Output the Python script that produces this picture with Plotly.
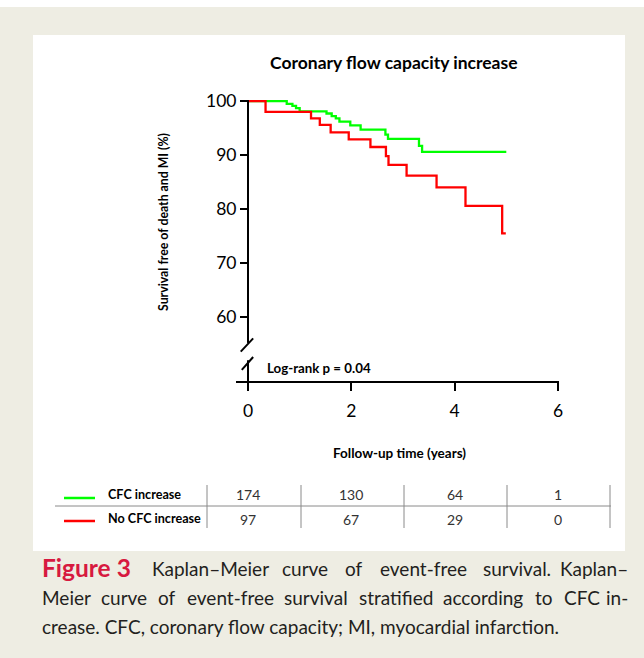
import plotly.graph_objects as go

# ---------------- data ----------------
green_t = [0, 0.75, 0.86, 0.93, 1.00, 1.52, 1.62, 1.70, 1.77, 1.98, 2.18, 2.66, 2.71, 3.31, 3.37, 5.0]
green_s = [100, 99.5, 99.1, 98.7, 98.1, 97.7, 97.2, 96.8, 96.2, 95.5, 94.7, 93.8, 93.0, 91.7, 90.6, 90.6]
red_t = [0, 0.34, 1.22, 1.39, 1.60, 1.95, 2.37, 2.67, 2.72, 3.07, 3.65, 4.21, 4.92, 4.99]
red_s = [100, 98.0, 96.8, 95.6, 94.2, 92.9, 91.5, 89.8, 88.2, 86.2, 84.0, 80.6, 75.5, 75.5]
x_ticks = [0, 2, 4, 6]
y_ticks = [60, 70, 80, 90, 100]
risk_times = [0, 2, 4, 6]
risk_cfc = [174, 130, 64, 1]
risk_no_cfc = [97, 67, 29, 0]
group_names = ["CFC increase", "No CFC increase"]
group_colors = ["#00FF00", "#FF0000"]
caption_label = "Figure 3"
caption_lines = [
    "Kaplan–Meier curve of event-free survival. Kaplan–",
    "Meier curve of event-free survival stratified according to CFC in-",
    "crease. CFC, coronary flow capacity; MI, myocardial infarction.",
]

W, H = 644, 658
L, R, T, B = 236, 85, 93, 277
PW, PH = W - L - R, H - T - B


def px(x):
    return (x - L) / PW


def py(y):
    return 1 - (y - T) / PH


BEIGE = "#EEEDE3"
FONT = "Lato"

fig = go.Figure()
fig.add_trace(go.Scatter(x=green_t, y=green_s, mode="lines", line_shape="hv",
                         line=dict(color=group_colors[0], width=2.3), name=group_names[0]))
fig.add_trace(go.Scatter(x=red_t, y=red_s, mode="lines", line_shape="hv",
                         line=dict(color=group_colors[1], width=2.3), name=group_names[1]))

shapes = []
# background panels
shapes.append(dict(type="rect", xref="paper", yref="paper", x0=px(0), x1=px(W), y0=py(7), y1=py(0),
                   fillcolor="white", line=dict(width=0), layer="below"))
shapes.append(dict(type="rect", xref="paper", yref="paper", x0=px(33), x1=px(625), y0=py(551), y1=py(35),
                   fillcolor="white", line=dict(width=0), layer="below"))
# y-axis line with break
shapes.append(dict(type="line", xref="x", yref="y", x0=0, x1=0, y0=100.2, y1=55.2,
                   line=dict(color="black", width=2)))
shapes.append(dict(type="line", xref="x", yref="y", x0=0, x1=0, y0=52.0, y1=48.15,
                   line=dict(color="black", width=2)))
# break marks
shapes.append(dict(type="line", xref="x", yref="y", x0=-0.14, x1=0.10, y0=53.6, y1=56.05,
                   line=dict(color="black", width=2)))
shapes.append(dict(type="line", xref="x", yref="y", x0=-0.12, x1=0.10, y0=50.2, y1=52.6,
                   line=dict(color="black", width=2)))
# table lines
shapes.append(dict(type="line", xref="paper", yref="paper", x0=px(55), x1=px(611), y0=py(506), y1=py(506),
                   line=dict(color="#8a8a8a", width=1)))
for vx in [207, 301, 404, 507, 610]:
    shapes.append(dict(type="line", xref="paper", yref="paper", x0=px(vx), x1=px(vx), y0=py(485), y1=py(528),
                       line=dict(color="#8a8a8a", width=1)))
# legend swatches
for c, yy in zip(group_colors, [498, 521]):
    shapes.append(dict(type="line", xref="paper", yref="paper", x0=px(64), x1=px(95), y0=py(yy), y1=py(yy),
                       line=dict(color=c, width=2.5)))

ann = []


def txt(text, x, y, size, bold=False, color="black", xanchor="center", font=FONT, xref="paper", textangle=0):
    ann.append(dict(text=f"<b>{text}</b>" if bold else text, x=x if xref != "paper" else px(x), y=py(y),
                    xref=xref, yref="paper", showarrow=False, xanchor=xanchor, yanchor="middle",
                    textangle=textangle, font=dict(family=font, size=size, color=color)))


txt("Coronary flow capacity increase", 394, 62, 17.5, bold=True)
txt("Survival free of death and MI (%)", 163, 222, 12.3, bold=True, textangle=-90)
txt("Follow-up time (years)", 399, 453, 13.5, bold=True)
txt("Log-rank p = 0.04", 265, 368, 13.3, bold=True, xanchor="left")
txt(group_names[0], 106, 494, 12.6, bold=True, xanchor="left")
txt(group_names[1], 106, 518, 12.6, bold=True, xanchor="left")
for t, a, b in zip(risk_times, risk_cfc, risk_no_cfc):
    txt(str(a), t, 494, 14, color="#333333", xref="x")
    txt(str(b), t, 519, 14, color="#333333", xref="x")

# ---- caption, justified using approximate Lato advance widths (em) ----
CW = {' ': .193, 'a': .49, 'b': .555, 'c': .45, 'd': .555, 'e': .51, 'f': .32, 'g': .50, 'h': .55,
      'i': .235, 'j': .235, 'k': .49, 'l': .235, 'm': .83, 'n': .55, 'o': .55, 'p': .55, 'q': .555,
      'r': .36, 's': .415, 't': .345, 'u': .55, 'v': .49, 'w': .75, 'x': .48, 'y': .49, 'z': .44,
      'C': .64, 'F': .52, 'K': .62, 'M': .84, 'I': .28, '.': .21, ',': .21, ';': .22, '-': .34,
      '–': .50}


def wwidth(word, size):
    return sum(CW.get(ch, .5) for ch in word) * size


CAP = "#231F20"
CS = 19
LX0, LX1 = 40, 630


def justify(line, x0, x1, y):
    words = line.split(" ")
    widths = [wwidth(w, CS) for w in words]
    gap = (x1 - x0 - sum(widths)) / (len(words) - 1)
    x = x0
    for i, (w, wd) in enumerate(zip(words, widths)):
        if i == len(words) - 1:
            txt(w, x1, y, CS, color=CAP, xanchor="right")
        else:
            txt(w, x, y, CS, color=CAP, xanchor="left")
        x += wd + gap


ann.append(dict(text=f"<b>{caption_label.replace(' ', '&nbsp;')}</b>", x=px(LX0), y=py(567), xref="paper",
                yref="paper", showarrow=False, xanchor="left", yanchor="middle",
                font=dict(family=FONT, size=24.5, color="#D7193F")))
justify(caption_lines[0], 150, LX1, 568)
justify(caption_lines[1], LX0, LX1, 597)
txt(caption_lines[2], LX0, 626, CS, color=CAP, xanchor="left")

fig.update_layout(
    width=W, height=H, margin=dict(l=L, r=R, t=T, b=B, pad=0),
    paper_bgcolor=BEIGE, plot_bgcolor="rgba(0,0,0,0)",
    showlegend=False, shapes=shapes, annotations=ann,
    font=dict(family=FONT, color="black"),
    xaxis=dict(range=[-0.232, 6.02], tickvals=x_ticks, ticks="outside", ticklen=8, tickwidth=2,
               tickcolor="black", showline=True, linewidth=2, linecolor="black", showgrid=False,
               zeroline=False, tickfont=dict(size=17.5, family=FONT), ticklabelstandoff=5),
    yaxis=dict(range=[48.15, 101.5], tickvals=y_ticks, ticks="outside", ticklen=8, tickwidth=2,
               tickcolor="black", showline=False, showgrid=False, zeroline=False,
               anchor="free", position=px(248), tickfont=dict(size=17.5, family=FONT)),
)

fig.write_html("out.html", config={"displayModeBar": False})
